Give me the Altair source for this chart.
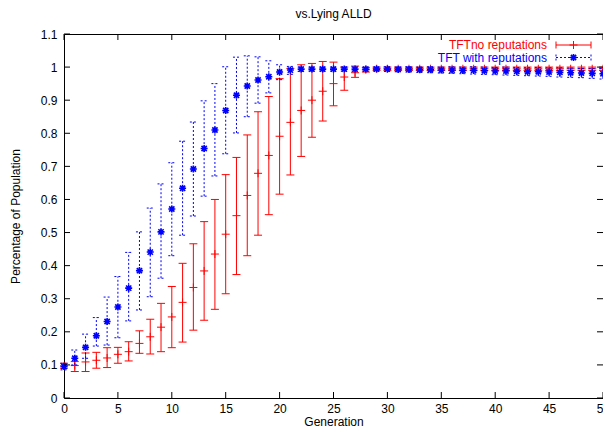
import altair as alt
import pandas as pd

generations = list(range(51))

red_mean = [0.097, 0.098, 0.109, 0.114, 0.121, 0.132, 0.140, 0.165, 0.185, 0.214,
            0.245, 0.289, 0.334, 0.384, 0.435, 0.495, 0.551, 0.612, 0.679, 0.733,
            0.791, 0.833, 0.869, 0.900, 0.927, 0.950, 0.970, 0.983, 0.992, 0.995,
            0.995, 0.995, 0.995, 0.995, 0.995, 0.995, 0.995, 0.995, 0.995, 0.995,
            0.995, 0.995, 0.995, 0.995, 0.995, 0.995, 0.995, 0.995, 0.995, 0.995, 0.995]
red_low = [0.090, 0.080, 0.080, 0.090, 0.092, 0.105, 0.112, 0.135, 0.133, 0.140,
           0.152, 0.169, 0.205, 0.235, 0.268, 0.315, 0.373, 0.430, 0.492, 0.554,
           0.616, 0.674, 0.730, 0.788, 0.837, 0.883, 0.930, 0.969, 0.985, 0.990,
           0.990, 0.990, 0.990, 0.990, 0.990, 0.990, 0.990, 0.990, 0.990, 0.990,
           0.990, 0.990, 0.990, 0.990, 0.990, 0.990, 0.990, 0.990, 0.990, 0.990, 0.990]
red_high = [0.105, 0.110, 0.136, 0.138, 0.152, 0.153, 0.170, 0.203, 0.238, 0.286,
            0.337, 0.407, 0.466, 0.533, 0.600, 0.675, 0.727, 0.795, 0.865, 0.911,
            0.965, 0.996, 1.007, 1.011, 1.017, 1.015, 1.000, 1.003, 0.999, 1.000,
            1.000, 1.000, 1.000, 1.000, 1.000, 1.000, 1.000, 1.000, 1.000, 1.000,
            1.000, 1.000, 1.000, 1.000, 1.000, 1.000, 1.000, 1.000, 1.000, 1.000, 1.000]

blue_mean = [0.095, 0.120, 0.153, 0.188, 0.231, 0.275, 0.332, 0.385, 0.441, 0.502,
             0.571, 0.634, 0.692, 0.754, 0.810, 0.869, 0.915, 0.943, 0.961, 0.971,
             0.985, 0.991, 0.994, 0.994, 0.994, 0.994, 0.994, 0.994, 0.994, 0.994,
             0.994, 0.993, 0.993, 0.992, 0.992, 0.991, 0.991, 0.990, 0.990, 0.989,
             0.988, 0.988, 0.987, 0.986, 0.986, 0.985, 0.984, 0.983, 0.982, 0.981, 0.980]
blue_low = [0.085, 0.100, 0.120, 0.157, 0.160, 0.182, 0.233, 0.266, 0.306, 0.362,
            0.430, 0.492, 0.550, 0.610, 0.671, 0.738, 0.801, 0.850, 0.891, 0.922,
            0.962, 0.978, 0.987, 0.988, 0.988, 0.988, 0.988, 0.988, 0.988, 0.988,
            0.987, 0.986, 0.985, 0.984, 0.983, 0.982, 0.981, 0.980, 0.979, 0.978,
            0.977, 0.976, 0.975, 0.974, 0.973, 0.972, 0.970, 0.969, 0.968, 0.966, 0.964]
blue_high = [0.105, 0.145, 0.193, 0.243, 0.305, 0.367, 0.440, 0.502, 0.574, 0.647,
             0.711, 0.776, 0.834, 0.898, 0.950, 1.001, 1.030, 1.034, 1.031, 1.019,
             1.007, 1.002, 1.000, 1.000, 1.000, 1.000, 1.000, 1.000, 1.000, 1.000,
             1.001, 1.000, 1.001, 1.000, 1.001, 1.000, 1.001, 1.000, 1.001, 1.000,
             0.999, 1.000, 0.999, 0.998, 0.999, 0.998, 0.998, 0.997, 0.996, 0.996, 0.996]

series_names = ["TFTno reputations", "TFT with reputations"]
x_ticks = [0, 5, 10, 15, 20, 25, 30, 35, 40, 45, 50]
y_ticks = [0, 0.1, 0.2, 0.3, 0.4, 0.5, 0.6, 0.7, 0.8, 0.9, 1.0, 1.1]

RED = "#ff0000"
BLUE = "#0000ff"
FONT = "Liberation Sans"
W, H = 539, 364

red_df = pd.DataFrame({"gen": generations, "mean": red_mean, "low": red_low, "high": red_high})
blue_df = pd.DataFrame({"gen": generations, "mean": blue_mean, "low": blue_low, "high": blue_high})

xaxis = alt.Axis(values=x_ticks, ticks=False, domain=False, grid=False, title="Generation",
                 labelPadding=5, labelFontSize=12, titleFontSize=12, titleFontWeight="normal",
                 labelFont=FONT, titleFont=FONT, labelColor="black", titleColor="black",
                 labelFlush=False, titleY=27.5, titleBaseline="alphabetic")
yaxis = alt.Axis(values=y_ticks, ticks=False, domain=False, grid=False, format=".1~f",
                 title="Percentage of Population", labelPadding=7, labelFontSize=12,
                 titleFontSize=12, titleFontWeight="normal", labelFont=FONT, titleFont=FONT,
                 labelColor="black", titleColor="black", titleX=-49, titleBaseline="middle")
xscale = alt.Scale(domain=[0, 50], nice=False, zero=False)
yscale = alt.Scale(domain=[0, 1.1], nice=False, zero=True)


def X(field):
    return alt.X(f"{field}:Q", scale=xscale, axis=xaxis, title="Generation")


def Y(field):
    return alt.Y(f"{field}:Q", scale=yscale, axis=yaxis, title="Percentage of Population")


HLINE = "M-1,0L1,0"
VLINE = "M0,-1L0,1"
PLUS = "M-1,0L1,0M0,-1L0,1"
STAR = "M-1,0L1,0M0,-1L0,1M-0.75,-0.75L0.75,0.75M-0.75,0.75L0.75,-0.75"

layers = []

# red series
layers.append(alt.Chart(red_df).mark_rule(color=RED, strokeWidth=1).encode(
    x=X("gen"), y=Y("low"), y2="high:Q"))
for f in ["low", "high"]:
    layers.append(alt.Chart(red_df).mark_point(shape=HLINE, size=64, filled=False, color=RED,
                                               strokeWidth=1, opacity=1).encode(x=X("gen"), y=Y(f)))
layers.append(alt.Chart(red_df).mark_point(shape=PLUS, size=64, filled=False, color=RED,
                                           strokeWidth=1, opacity=1).encode(x=X("gen"), y=Y("mean")))

# blue series
layers.append(alt.Chart(blue_df).mark_rule(color=BLUE, strokeWidth=1, strokeDash=[2, 2]).encode(
    x=X("gen"), y=Y("low"), y2="high:Q"))
for f in ["low", "high"]:
    layers.append(alt.Chart(blue_df).mark_point(shape=HLINE, size=49, filled=False, color=BLUE,
                                                strokeWidth=1, strokeDash=[2, 2], opacity=1).encode(
        x=X("gen"), y=Y(f)))
layers.append(alt.Chart(blue_df).mark_point(shape=STAR, size=49, filled=False, color=BLUE,
                                            strokeWidth=1.6, opacity=1).encode(x=X("gen"), y=Y("mean")))

# inward mirrored ticks
xt = pd.DataFrame({"t": x_ticks})
yt = pd.DataFrame({"t": y_ticks})
layers.append(alt.Chart(xt).mark_rule(color="black", strokeWidth=1).encode(
    x=X("t"), y=alt.value(H), y2=alt.value(H - 6)))
layers.append(alt.Chart(xt).mark_rule(color="black", strokeWidth=1).encode(
    x=X("t"), y=alt.value(0), y2=alt.value(6)))
layers.append(alt.Chart(yt).mark_rule(color="black", strokeWidth=1).encode(
    y=Y("t"), x=alt.value(0), x2=alt.value(6)))
layers.append(alt.Chart(yt).mark_rule(color="black", strokeWidth=1).encode(
    y=Y("t"), x=alt.value(W - 6), x2=alt.value(W)))

# legend (inside, top right)
one = pd.DataFrame({"k": [0]})
LX1, LX2, LXM, LTX = 492, 527, 509.5, 483
LY1, LY2 = 11, 23.5
layers.append(alt.Chart(one).mark_text(align="right", baseline="middle", fontSize=12, font=FONT,
                                       color=RED).encode(
    x=alt.value(LTX), y=alt.value(LY1), text=alt.value(series_names[0])))
layers.append(alt.Chart(one).mark_text(align="right", baseline="middle", fontSize=12, font=FONT,
                                       color=BLUE).encode(
    x=alt.value(LTX), y=alt.value(LY2), text=alt.value(series_names[1])))
layers.append(alt.Chart(one).mark_rule(color=RED, strokeWidth=1).encode(
    x=alt.value(LX1), x2=alt.value(LX2), y=alt.value(LY1)))
layers.append(alt.Chart(one).mark_rule(color=BLUE, strokeWidth=1, strokeDash=[2, 2]).encode(
    x=alt.value(LX1), x2=alt.value(LX2), y=alt.value(LY2)))
for xv in [LX1, LX2]:
    layers.append(alt.Chart(one).mark_point(shape=VLINE, size=49, filled=False, color=RED,
                                            strokeWidth=1, opacity=1).encode(
        x=alt.value(xv), y=alt.value(LY1)))
    layers.append(alt.Chart(one).mark_point(shape=VLINE, size=36, filled=False, color=BLUE,
                                            strokeWidth=1, strokeDash=[2, 2], opacity=1).encode(
        x=alt.value(xv), y=alt.value(LY2)))
layers.append(alt.Chart(one).mark_point(shape=PLUS, size=64, filled=False, color=RED,
                                        strokeWidth=1, opacity=1).encode(
    x=alt.value(LXM), y=alt.value(LY1)))
layers.append(alt.Chart(one).mark_point(shape=STAR, size=49, filled=False, color=BLUE,
                                        strokeWidth=1.6, opacity=1).encode(
    x=alt.value(LXM), y=alt.value(LY2)))

chart = alt.layer(*layers).properties(
    width=W, height=H,
    title=alt.TitleParams("vs.Lying ALLD", fontSize=12, fontWeight="normal", font=FONT,
                          color="black", anchor="middle", offset=7),
    autosize=alt.AutoSizeParams(type="none"),
    padding={"left": 56, "top": 26, "right": 0, "bottom": 30},
).configure_view(stroke="black", strokeWidth=1)

chart.save("out.html", embed_options={"renderer": "svg", "actions": False})
